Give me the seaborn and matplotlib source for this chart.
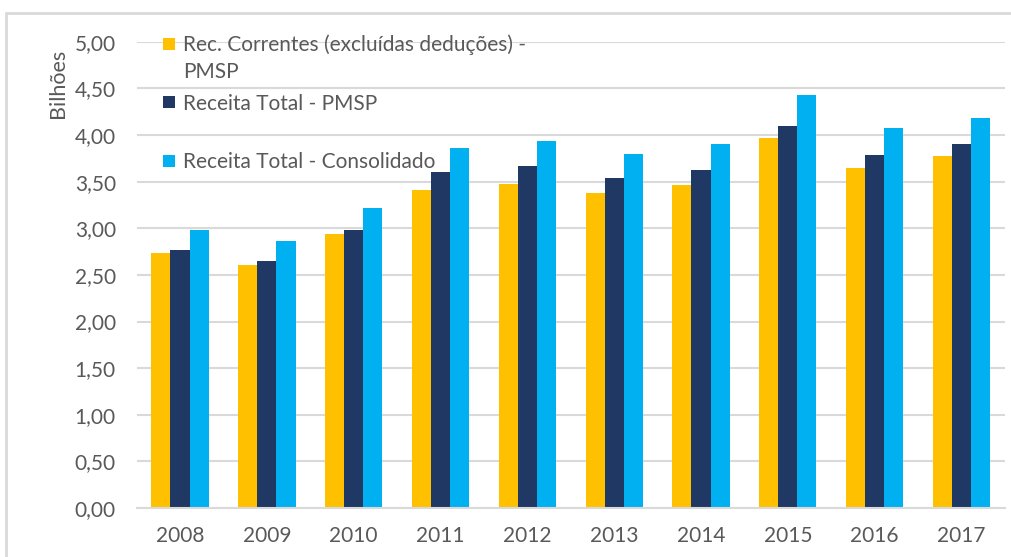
import numpy as np
import pandas as pd
import matplotlib
matplotlib.use("Agg")
import matplotlib.pyplot as plt
import seaborn as sns
from matplotlib.ticker import FuncFormatter, MultipleLocator
from matplotlib.lines import Line2D

years = ["2008", "2009", "2010", "2011", "2012", "2013", "2014", "2015", "2016", "2017"]
rec_correntes = [2.73, 2.61, 2.94, 3.41, 3.47, 3.38, 3.46, 3.97, 3.65, 3.77]
receita_pmsp = [2.77, 2.65, 2.98, 3.60, 3.67, 3.54, 3.62, 4.10, 3.79, 3.90]
receita_consolidado = [2.98, 2.86, 3.22, 3.86, 3.94, 3.80, 3.90, 4.43, 4.07, 4.18]
series_names = ["Rec. Correntes (excluídas deduções) - PMSP",
                "Receita Total - PMSP",
                "Receita Total - Consolidado"]
colors = ["#FFC000", "#203864", "#00B0F0"]

df = pd.DataFrame({
    "Ano": years * 3,
    "Valor": rec_correntes + receita_pmsp + receita_consolidado,
    "Serie": [series_names[0]] * 10 + [series_names[1]] * 10 + [series_names[2]] * 10,
})

sns.set_theme(style="white")
plt.rcParams['font.family'] = ['Lato', 'DejaVu Sans']
grey = "#595959"

fig = plt.figure(figsize=(10.12, 5.57), dpi=100)
ax = fig.add_axes([0.135, 0.088, 0.858, 0.837])

sns.barplot(data=df, x="Ano", y="Valor", hue="Serie", palette=colors, saturation=1,
            width=0.66, linewidth=0, ax=ax, legend=False)

ax.set_ylim(0, 5.0)
ax.yaxis.set_major_locator(MultipleLocator(0.5))
ax.yaxis.set_major_formatter(FuncFormatter(lambda v, p: f"{v:.2f}".replace(".", ",")))
ax.grid(axis="y", color="#d9d9d9", linewidth=1.5)
ax.set_axisbelow(True)
for s in ["top", "right", "left"]:
    ax.spines[s].set_visible(False)
ax.spines["bottom"].set_color("#d9d9d9")
ax.spines["bottom"].set_linewidth(1.5)
ax.tick_params(axis="both", length=0, labelsize=15, labelcolor=grey)
ax.tick_params(axis="x", pad=13)
ax.tick_params(axis="y", pad=15)
ax.set_xlabel("")
ax.set_ylabel("Bilhões", fontsize=15.5, color=grey)
ax.yaxis.set_label_coords(-0.079, 0.91)

# legend entries, spaced like the original (one legend per entry)
legend_labels = ["Rec. Correntes (excluídas deduções) -", series_names[1], series_names[2]]
legend_y = [0.9936, 0.867, 0.7425]
for color, label, y in zip(colors, legend_labels, legend_y):
    h = Line2D([0], [0], marker="s", linestyle="", markersize=9,
               markerfacecolor=color, markeredgewidth=0)
    leg = ax.legend([h], [label], loc="center left", bbox_to_anchor=(0.028, y),
                    frameon=False, fontsize=15, borderpad=0, borderaxespad=0,
                    handlelength=0.8, handletextpad=0.26, labelcolor=grey)
    ax.add_artist(leg)
ax.legend_ = None
ax.text(0.054, 0.9356, "PMSP", transform=ax.transAxes, fontsize=15, color=grey,
        ha="left", va="center")

# outer chart frame
fig.add_artist(Line2D([0.006, 0.006], [0, 0.977], color="#d9d9d9", linewidth=2, transform=fig.transFigure))
fig.add_artist(Line2D([0.006, 1], [0.977, 0.977], color="#d9d9d9", linewidth=2, transform=fig.transFigure))

fig.savefig("out.png", dpi=100)
